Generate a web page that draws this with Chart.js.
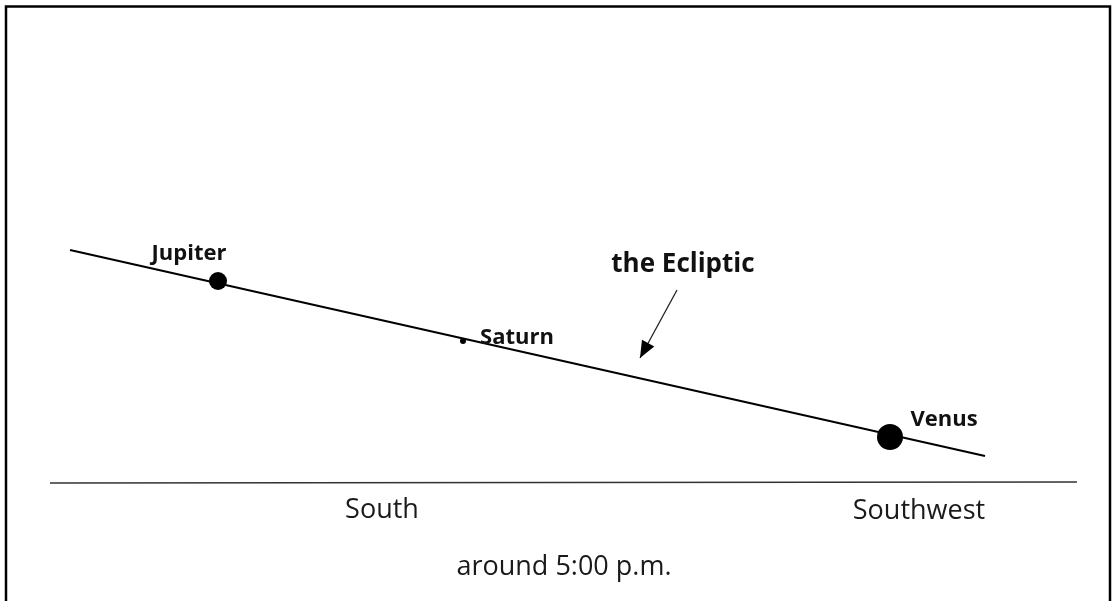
<!DOCTYPE html>
<html>
<head>
<meta charset="utf-8">
<script src="https://cdn.jsdelivr.net/npm/chart.js@4"></script>
<style>
  body { margin: 0; background: #fff; }
  canvas { display: block; }
</style>
</head>
<body>
<canvas id="myChart" width="1119" height="601"></canvas>
<script>
// sky coordinates (x across the sky, y downward like the drawing)
const eclipticX = [70, 985];
const eclipticY = [250, 456];
const horizonX = [50, 1077];
const horizonY = [483, 482];

const planetNames = ['Jupiter', 'Saturn', 'Venus'];
const planetX = [218, 463, 890];
const planetY = [281, 341, 437];
const planetSize = [9, 3, 13];
const planetLabelX = [189, 517, 944];
const planetLabelY = [260, 344, 426];

const directionNames = ['South', 'Southwest'];
const directionX = [382, 919];
const directionY = [518, 519];

const arrowX = [677, 640];
const arrowY = [290, 358];

const toPoints = (xs, ys) => xs.map((x, i) => ({ x: x, y: ys[i] }));

// frame, labels and arrow head
const overlay = {
    id: 'overlay',
    afterDatasetsDraw(chart) {
        const ctx = chart.ctx;
        const sx = chart.scales.x, sy = chart.scales.y;
        const px = v => sx.getPixelForValue(v);
        const py = v => sy.getPixelForValue(v);

        ctx.save();
        // outer box (open at bottom)
        ctx.strokeStyle = '#000';
        ctx.lineWidth = 2.5;
        ctx.beginPath();
        ctx.moveTo(px(6), py(610));
        ctx.lineTo(px(6), py(6.5));
        ctx.lineTo(px(1110), py(6.5));
        ctx.lineTo(px(1110), py(610));
        ctx.stroke();

        ctx.fillStyle = '#111';
        ctx.textAlign = 'center';
        ctx.textBaseline = 'alphabetic';
        ctx.font = 'bold 22px "Open Sans", sans-serif';
        planetNames.forEach((name, i) => {
            ctx.fillText(name, px(planetLabelX[i]), py(planetLabelY[i]));
        });
        ctx.font = 'bold 26px "Open Sans", sans-serif';
        ctx.fillText('the Ecliptic', px(683), py(272));

        ctx.fillStyle = '#1a1a1a';
        ctx.font = '27px "Open Sans", sans-serif';
        directionNames.forEach((name, i) => {
            ctx.fillText(name, px(directionX[i]), py(directionY[i]));
        });
        ctx.fillText('around 5:00 p.m.', px(564), py(575));

        // arrow head
        const x1 = px(arrowX[0]), y1 = py(arrowY[0]);
        const x2 = px(arrowX[1]), y2 = py(arrowY[1]);
        const a = Math.atan2(y2 - y1, x2 - x1);
        const len = 17, w = 7;
        ctx.fillStyle = '#000';
        ctx.beginPath();
        ctx.moveTo(x2, y2);
        ctx.lineTo(x2 - len * Math.cos(a) + w * Math.sin(a), y2 - len * Math.sin(a) - w * Math.cos(a));
        ctx.lineTo(x2 - len * Math.cos(a) - w * Math.sin(a), y2 - len * Math.sin(a) + w * Math.cos(a));
        ctx.closePath();
        ctx.fill();
        ctx.restore();
    }
};

const ctx = document.getElementById('myChart').getContext('2d');
new Chart(ctx, {
    type: 'scatter',
    data: {
        datasets: [
            {
                label: 'Planets',
                data: toPoints(planetX, planetY),
                pointRadius: planetSize,
                backgroundColor: '#000',
                borderColor: '#000',
                borderWidth: 0,
                order: 0
            },
            {
                label: 'Ecliptic',
                data: toPoints(eclipticX, eclipticY),
                showLine: true,
                pointRadius: 0,
                borderColor: '#000',
                borderWidth: 2,
                order: 1
            },
            {
                label: 'Horizon',
                data: toPoints(horizonX, horizonY),
                showLine: true,
                pointRadius: 0,
                borderColor: '#333',
                borderWidth: 1.5,
                order: 1
            },
            {
                label: 'Arrow',
                data: toPoints(arrowX, arrowY),
                showLine: true,
                pointRadius: 0,
                borderColor: '#222',
                borderWidth: 1.3,
                order: 1
            }
        ]
    },
    options: {
        responsive: false,
        animation: false,
        layout: { padding: 0, autoPadding: false },
        scales: {
            x: { type: 'linear', min: 0, max: 1119, display: false },
            y: { type: 'linear', min: 0, max: 601, reverse: true, display: false }
        },
        plugins: {
            legend: { display: false },
            tooltip: { enabled: false },
            title: { display: false }
        }
    },
    plugins: [overlay]
});
</script>
</body>
</html>
